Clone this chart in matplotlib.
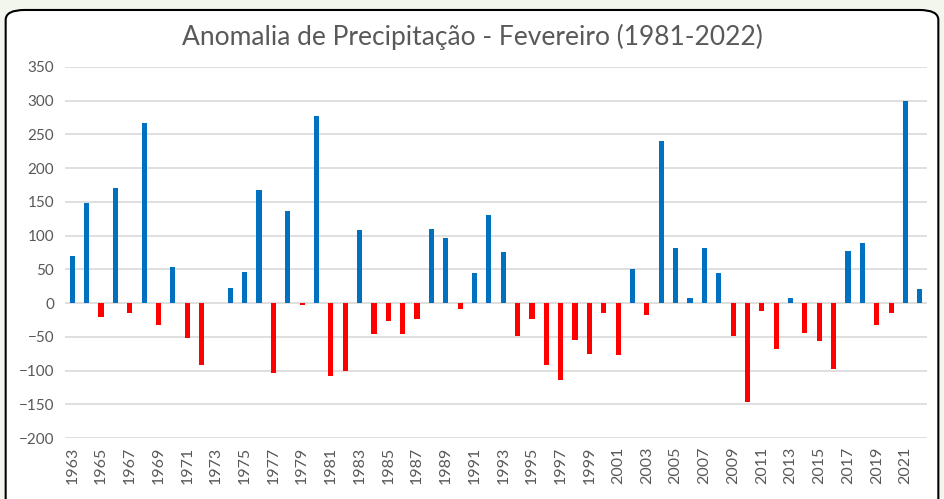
import numpy as np
import matplotlib.pyplot as plt
from matplotlib.patches import FancyBboxPatch

years = list(range(1963, 2023))
anomalia = [70, 148, -20, 170, -15, 267, -32, 54, -52, -91,
            0, 23, 46, 168, -103, 136, -3, 277, -108, -100,
            108, -46, -26, -46, -23, 110, 96, -9, 44, 131,
            75, -49, -24, -91, -114, -55, -75, -15, -77, 51,
            -18, 240, 81, 8, 82, 44, -49, -146, -11, -68,
            8, -44, -56, -97, 77, 89, -32, -15, 300, 21]

plt.rcParams['font.family'] = ['Lato', 'DejaVu Sans']

fig = plt.figure(figsize=(9.44, 4.99), dpi=100)
fig.patch.set_facecolor('#f3f6ec')
box = FancyBboxPatch((0.006, -0.05), 0.988, 1.03, boxstyle="round,pad=0,rounding_size=0.02",
                     transform=fig.transFigure, facecolor='white', edgecolor='black', lw=1.5,
                     zorder=-10)
fig.patches.append(box)

ax = fig.add_axes([0.069, 0.122, 0.913, 0.744])
ax.patch.set_alpha(0)
x = np.arange(len(years))
cores = ['#0070c0' if v >= 0 else '#ff0000' for v in anomalia]
ax.bar(x, anomalia, width=0.36, color=cores, zorder=3)

ax.set_ylim(-200, 350)
ax.set_yticks(np.arange(-200, 351, 50))
ax.set_xlim(-0.5, len(years) - 0.5)
ax.set_xticks(x[::2])
ax.set_xticklabels([str(a) for a in years[::2]], rotation=90, fontsize=11.5, color='#595959')
ax.tick_params(axis='y', labelsize=11, colors='#595959', length=0, pad=8)
ax.tick_params(axis='x', length=0, pad=6)
ax.grid(axis='y', color='#d9d9d9', lw=1.2, zorder=0)
for s in ax.spines.values():
    s.set_visible(False)

fig.text(0.5, 0.925, 'Anomalia de Precipitação - Fevereiro (1981-2022)', ha='center', va='center',
         fontsize=19, color='#595959')

fig.savefig('out.png', dpi=100, facecolor=fig.get_facecolor())
